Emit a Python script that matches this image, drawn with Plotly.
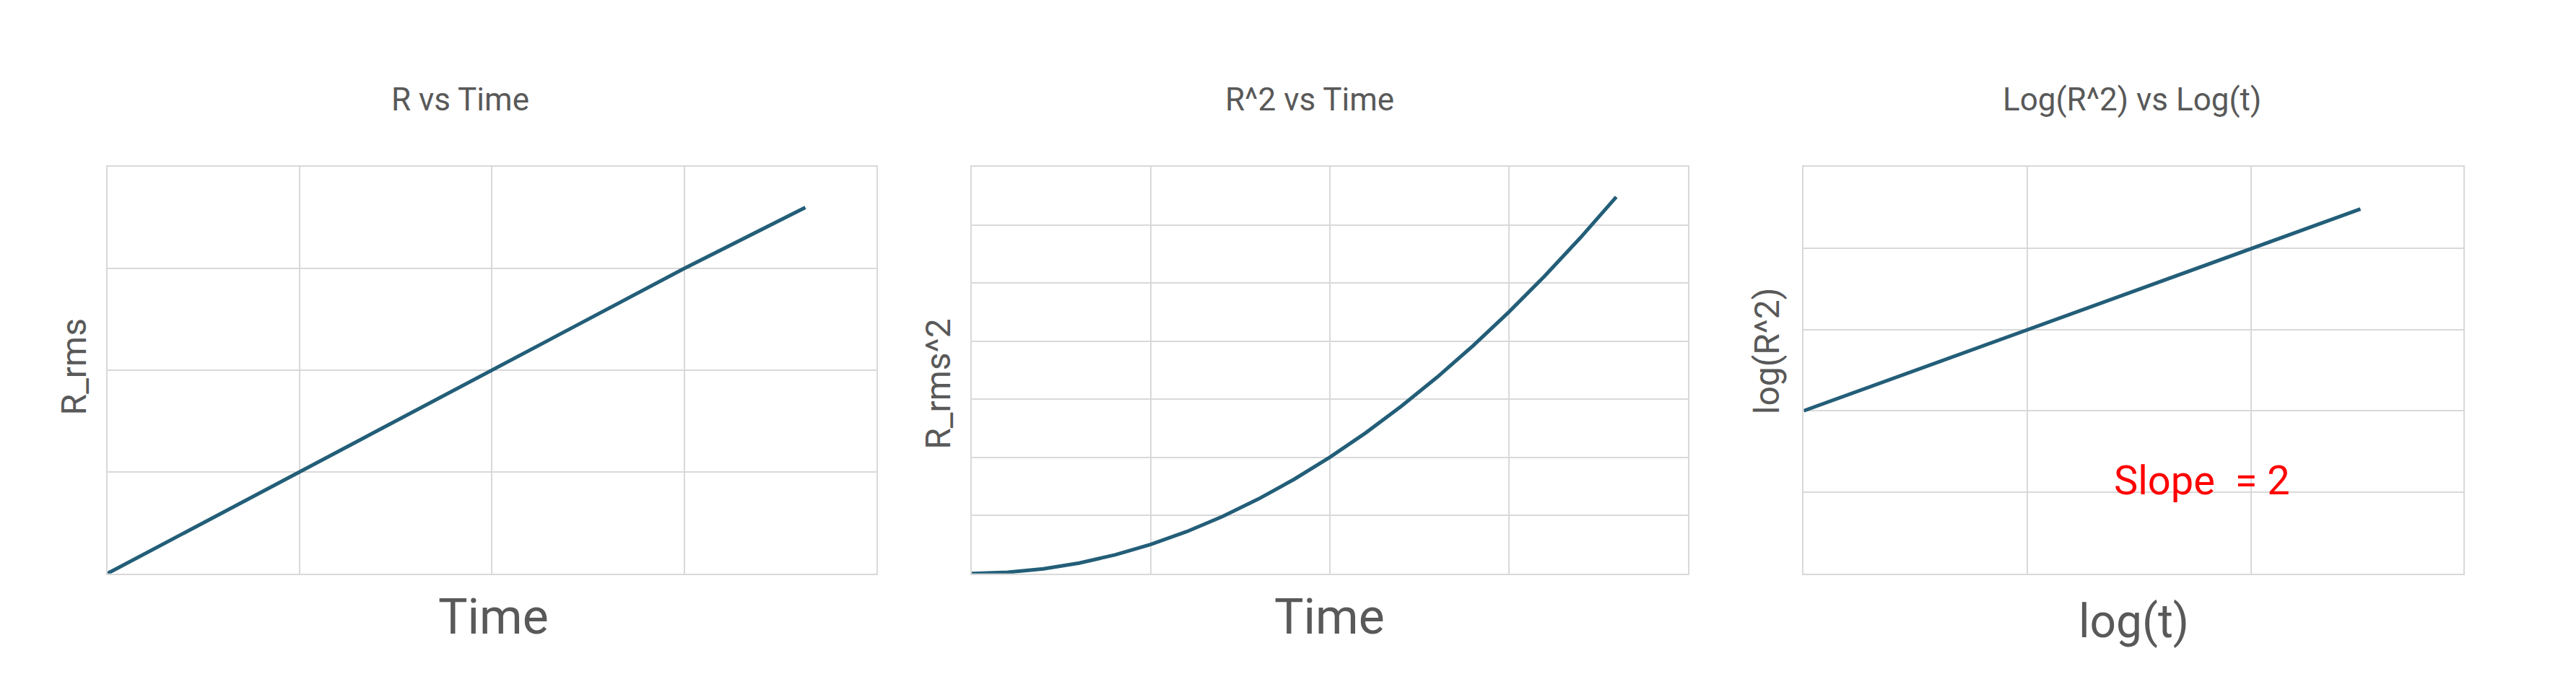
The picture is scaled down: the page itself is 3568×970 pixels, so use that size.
import plotly.graph_objects as go

# panel 1: R vs time
t1 = [0, 0.5, 1.0, 1.5, 2.0, 2.5, 3.0, 3.63]
r1 = [0, 0.5, 1.0, 1.5, 2.0, 2.5, 3.0, 3.6]

# panel 2: R^2 vs time
t2 = [0, 0.2, 0.4, 0.6, 0.8, 1.0, 1.2, 1.4, 1.6, 1.8, 2.0, 2.2, 2.4, 2.6, 2.8, 3.0, 3.2, 3.4, 3.6]
r2 = [0, 0.02, 0.08, 0.18, 0.32, 0.5, 0.72, 0.98, 1.28, 1.62, 2.0, 2.42, 2.88, 3.38, 3.92, 4.5, 5.12, 5.78, 6.48]

# panel 3: log-log
lt = [0, 2.49]
lr = [2.0, 4.48]

W, H = 3568, 970
lineCol = "#235e78"
grid = "#d9d9d9"
textCol = "#595959"

fig = go.Figure()
fig.add_trace(go.Scatter(x=t1, y=r1, mode="lines", line=dict(color=lineCol, width=5), xaxis="x", yaxis="y"))
fig.add_trace(go.Scatter(x=t2, y=r2, mode="lines", line=dict(color=lineCol, width=5), xaxis="x2", yaxis="y2"))
fig.add_trace(go.Scatter(x=lt, y=lr, mode="lines", line=dict(color=lineCol, width=5), xaxis="x3", yaxis="y3"))


def ax(domain, rng, dtick, anchor):
    return dict(domain=domain, range=rng, dtick=dtick, showticklabels=False, ticks="",
                showgrid=True, gridcolor=grid, gridwidth=2, zeroline=False,
                showline=True, linecolor=grid, linewidth=2, mirror=True, anchor=anchor)


ydom = [0.189, 0.770]
fig.update_layout(
    width=W, height=H, showlegend=False,
    paper_bgcolor="white", plot_bgcolor="white",
    margin=dict(l=0, r=0, t=0, b=0),
    font=dict(family="Roboto", color=textCol),
    xaxis=ax([0.0395, 0.338], [0, 4], 1, "y"),
    yaxis=ax(ydom, [0, 4], 1, "x"),
    xaxis2=ax([0.375, 0.653], [0, 4], 1, "y2"),
    yaxis2=ax(ydom, [0, 7], 1, "x2"),
    xaxis3=ax([0.698, 0.954], [0, 2.95], 1, "y3"),
    yaxis3=ax(ydom, [0, 5], 1, "x3"),
)

notes = [
    ("R vs Time", 0.1764, 0.866, 44, 0),
    ("R^2 vs Time", 0.5063, 0.866, 44, 0),
    ("Log(R^2) vs Log(t)", 0.8253, 0.866, 44, 0),
    ("Time", 0.1894, 0.127, 68, 0),
    ("Time", 0.514, 0.127, 68, 0),
    ("log(t)", 0.826, 0.12, 64, 0),
    ("R_rms", 0.0266, 0.484, 48, -90),
    ("R_rms^2", 0.3621, 0.46, 48, -90),
    ("log(R^2)", 0.6836, 0.507, 48, -90),
]
for text, x, y, size, ang in notes:
    fig.add_annotation(text=text, x=x, y=y, xref="paper", yref="paper", showarrow=False,
                       xanchor="center", yanchor="middle",
                       textangle=ang, font=dict(size=size, color=textCol))

fig.add_annotation(text="Slope  = 2", x=0.8526, y=0.322, xref="paper", yref="paper",
                   xanchor="center", yanchor="middle",
                   showarrow=False, font=dict(size=56, color="#ff0000"))

fig.write_html("out.html")
